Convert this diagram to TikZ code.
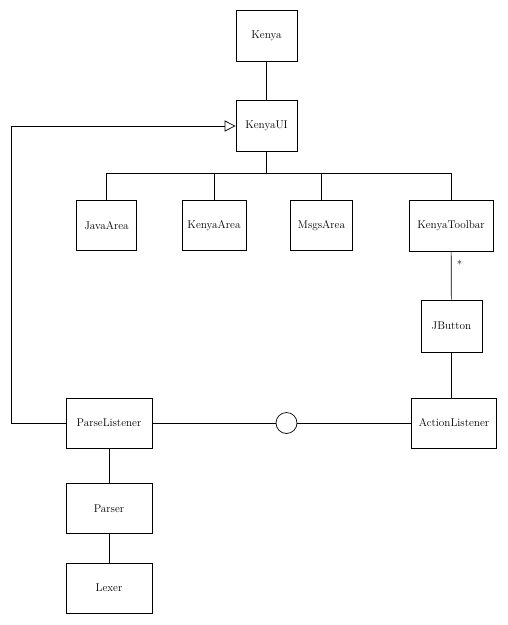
\documentclass[tikz,border=0pt]{standalone}
\usetikzlibrary{arrows.meta}
\begin{document}
\begin{tikzpicture}[x=1pt,y=-1pt,
  box/.style={draw,line width=0.7pt,minimum height=51pt,inner sep=0pt,font=\fontsize{11.2}{13}\selectfont},
  conn/.style={line width=0.7pt},
  lbl/.style={font=\fontsize{11}{13}\selectfont,inner sep=0pt}]
\useasboundingbox (0,0) rectangle (507,625);
\node[box,minimum width=61pt] (Kenya) at (266.5,36) {Kenya};
\node[box,minimum width=61pt] (KenyaUI) at (266.5,126) {KenyaUI};
\node[box,minimum width=60pt,minimum height=50pt] (JavaArea) at (106.5,225.5) {JavaArea};
\node[box,minimum width=64pt,minimum height=50pt] (KenyaArea) at (214,225.5) {KenyaArea};
\node[box,minimum width=62pt,minimum height=50pt] (MsgsArea) at (321.5,225.5) {MsgsArea};
\node[box,minimum width=84pt,minimum height=51pt] (KenyaToolbar) at (451,226) {KenyaToolbar};
\node[box,minimum width=61pt,minimum height=52pt] (JButton) at (451.5,326) {JButton};
\node[box,minimum width=85pt,minimum height=50pt] (ActionListener) at (454,423) {ActionListener};
\node[box,minimum width=86pt,minimum height=50pt] (ParseListener) at (109,423) {ParseListener};
\node[box,minimum width=86pt,minimum height=50pt] (Parser) at (109,508.5) {Parser};
\node[box,minimum width=86pt,minimum height=50pt] (Lexer) at (109,588) {Lexer};
\node[draw,circle,line width=0.7pt,minimum size=21pt,inner sep=0pt] (iface) at (286.5,423) {};
\node[lbl] (star) at (459.5,264) {*};
\coordinate (bus) at (266.5,173);
\coordinate (c2) at (11,126);
\draw[conn] (Kenya) -- (KenyaUI);
\draw[conn] (KenyaUI) -- (bus);
\draw[conn] (bus) -| (JavaArea);
\draw[conn] (bus) -| (KenyaArea);
\draw[conn] (bus) -| (MsgsArea);
\draw[conn] (bus) -| (KenyaToolbar);
\draw[conn] (KenyaToolbar) -- (JButton);
\draw[conn] (JButton.south) -- (JButton.south |- ActionListener.north);
\draw[conn] (ParseListener) -- (iface);
\draw[conn] (iface) -- (ActionListener);
\draw[conn] (ParseListener) -- (Parser);
\draw[conn] (Parser) -- (Lexer);
\draw[conn,-{Triangle[open,length=11pt,width=11pt]}] (ParseListener.west) -| (c2) -- (KenyaUI.west);
\end{tikzpicture}
\end{document}
